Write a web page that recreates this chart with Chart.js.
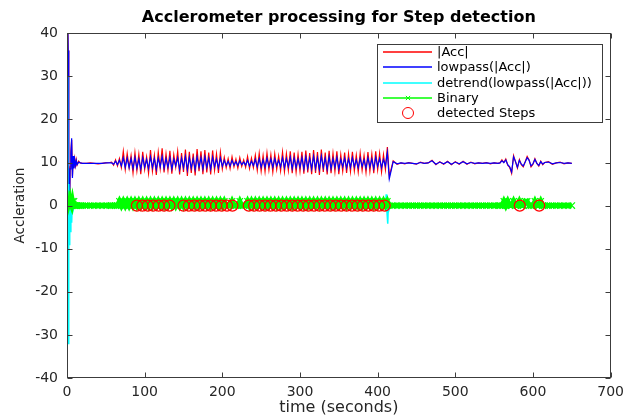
<!DOCTYPE html>
<html>
<head>
<meta charset="utf-8">
<script src="https://cdn.jsdelivr.net/npm/chart.js@4.4.1/dist/chart.umd.min.js"></script>
<style>
  html, body { margin: 0; padding: 0; background: #fff; }
  canvas { display: block; }
</style>
</head>
<body>
<canvas id="chart" width="630" height="417"></canvas>
<script>
// sample times (seconds) -- dense at the start, 2.5 s while walking, 5 s when still
const seq = (a, b, step) => {
  const out = [];
  for (let i = 0; a + i * step <= b + 1e-9; i++) out.push(a + i * step);
  return out;
};
const tStart = [0, 0.5, 1, 1.5, 2, 2.5, 3, 3.5, 4, 5, 6, 7, 8, 9, 10, 11, 12, 13, 15, 17, 20];
const accTime = [
  ...tStart,
  ...seq(25, 55, 5),
  ...seq(57.5, 415, 2.5),
  ...seq(420, 555, 5),
  ...seq(557.5, 615, 2.5),
  ...seq(620, 650, 5)
];

// |Acc|
const accMag = [
  9.8, 25, 45, 36, 10, 0, -6, 2, 9, 12.5, 15.2, 6.8, 11.2, 8.8, 10.8, 9.3, 10.6, 9.4, 10.3, 9.9, 9.8,
  9.8, 9.9, 9.8, 9.7, 9.8, 9.9, 10.0,
  10.1, 9.4, 10.6, 9.2, 10.9, 8.8, 12.6, 8.4,
  12.1, 8.7, 11.6, 7.6, 12.3, 8.1, 11.9, 7.3,
  12.5, 8.4, 11.3, 7.5, 12.9, 8.0, 11.7, 7.1,
  12.4, 8.6, 13.3, 7.7, 12.0, 8.2, 12.7, 7.4,
  11.8, 8.9, 12.6, 7.2, 12.2, 7.8, 13.0, 6.9,
  12.5, 7.6, 12.1, 7.0, 13.1, 8.0, 12.6, 7.3,
  12.9, 7.7, 12.3, 7.2, 12.8, 8.2, 12.0, 7.6,
  12.4, 8.5, 11.2, 8.8, 10.9, 8.6, 11.3, 9.0,
  10.8, 8.7, 11.1, 9.1, 10.6, 8.9, 11.4, 8.6,
  11.0, 8.8, 11.7, 8.2, 12.1, 8.0, 11.6, 7.9,
  12.2, 8.3, 11.8, 7.8, 12.0, 8.4, 11.5, 8.1,
  12.4, 7.9, 12.0, 8.2, 12.6, 7.5, 12.3, 7.8,
  11.9, 8.0, 12.5, 7.4, 12.8, 7.7, 12.2, 7.3,
  12.9, 7.6, 12.4, 7.1, 13.0, 7.8, 12.3, 7.2,
  12.7, 7.5, 12.1, 7.9, 12.6, 7.3, 11.8, 8.0,
  12.3, 7.6, 12.0, 7.9, 12.5, 8.1, 11.7, 7.8,
  12.2, 8.2, 11.6, 7.7, 12.4, 8.0, 11.9, 7.5,
  12.6, 8.3, 12.1, 7.8, 11.8, 8.4, 13.6, 6.8,
  10.4, 9.6, 9.9, 9.7, 10.0, 9.8, 9.6, 10.1, 9.8, 9.9,
  10.5, 9.5, 10.2, 9.6, 10.3, 9.5, 10.2, 9.6, 10.3, 9.6,
  10.1, 9.7, 9.9, 9.8, 10.0, 9.7, 9.9, 9.8,
  9.9, 10.6, 10.0, 10.8, 9.4, 8.9, 7.5, 11.6, 10.2, 8.7, 10.7, 9.5,
  9.0, 10.2, 11.4, 10.6, 9.0, 9.6, 10.9, 9.8, 9.2, 10.3, 9.5, 10.0,
  10.2, 9.6, 9.9, 10.1, 9.7, 9.9, 9.8
];

// lowpass(|Acc|)
const accLow = [
  9.8, 25, 45, 36, 10, 0, -6, 2, 8.5, 12, 15.6, 6.4, 11.5, 8.6, 10.6, 9.3, 10.4, 9.5, 10.1, 9.9, 9.8,
  9.8, 9.8, 9.8, 9.8, 9.8, 9.9, 9.9,
  9.9, 9.6, 10.3, 9.5, 10.5, 9.2, 11.1, 8.9,
  11.0, 8.8, 10.9, 8.6, 11.2, 8.7, 10.8, 8.5,
  11.1, 8.9, 10.7, 8.6, 11.3, 8.8, 10.9, 8.4,
  11.0, 9.0, 11.4, 8.7, 10.9, 8.9, 11.2, 8.5,
  10.8, 9.2, 11.1, 8.4, 11.0, 8.8, 11.4, 8.3,
  11.2, 8.7, 10.9, 8.4, 11.3, 8.9, 11.1, 8.5,
  11.3, 8.8, 11.0, 8.5, 11.2, 9.0, 10.8, 8.7,
  11.0, 9.1, 10.5, 9.3, 10.3, 9.2, 10.5, 9.4,
  10.2, 9.3, 10.4, 9.5, 10.1, 9.4, 10.5, 9.2,
  10.3, 9.3, 10.7, 9.0, 10.9, 8.9, 10.6, 8.9,
  11.0, 9.1, 10.8, 8.9, 10.9, 9.2, 10.5, 9.0,
  11.1, 8.8, 10.9, 9.0, 11.2, 8.6, 11.0, 8.8,
  10.8, 8.9, 11.1, 8.5, 11.3, 8.7, 11.0, 8.5,
  11.4, 8.6, 11.1, 8.4, 11.5, 8.8, 11.0, 8.4,
  11.3, 8.6, 10.9, 8.9, 11.2, 8.5, 10.7, 9.0,
  11.0, 8.7, 10.8, 8.9, 11.1, 9.0, 10.6, 8.8,
  11.0, 9.1, 10.6, 8.7, 11.1, 9.0, 10.8, 8.6,
  11.2, 9.1, 10.9, 8.8, 10.7, 9.2, 12.3, 6.2,
  10.2, 9.7, 9.9, 9.8, 9.9, 9.8, 9.7, 10.0, 9.8, 9.9,
  10.4, 9.6, 10.1, 9.7, 10.2, 9.6, 10.1, 9.7, 10.2, 9.7,
  10.0, 9.8, 9.9, 9.8, 9.9, 9.8, 9.9, 9.8,
  9.9, 10.4, 10.0, 10.6, 9.5, 9.0, 7.8, 11.3, 10.2, 8.9, 10.5, 9.6,
  9.2, 10.1, 11.1, 10.5, 9.2, 9.7, 10.7, 9.8, 9.3, 10.2, 9.6, 10.0,
  10.1, 9.7, 9.9, 10.0, 9.8, 9.9, 9.8
];

// Binary (0/1) on the same time grid
const binary = [
  0, 1, 1, 0, 0, 0, 1, 0, 1, 1, 0, 1, 0, 1, 0, 0, 0, 0, 0, 0, 0,
  0, 0, 0, 0, 0, 0, 0,
  0, 0, 0, 0, 1, 0, 1, 0,
  1, 0, 1, 0, 1, 0, 1, 0,
  1, 0, 1, 0, 1, 0, 1, 0,
  1, 0, 1, 0, 1, 0, 1, 0,
  1, 0, 1, 0, 1, 0, 1, 0,
  1, 0, 1, 0, 1, 0, 1, 0,
  1, 0, 1, 0, 1, 0, 1, 0,
  1, 0, 1, 0, 0, 0, 1, 0,
  0, 0, 1, 0, 0, 0, 1, 0,
  1, 0, 1, 0, 1, 0, 1, 0,
  1, 0, 1, 0, 1, 0, 1, 0,
  1, 0, 1, 0, 1, 0, 1, 0,
  1, 0, 1, 0, 1, 0, 1, 0,
  1, 0, 1, 0, 1, 0, 1, 0,
  1, 0, 1, 0, 1, 0, 1, 0,
  1, 0, 1, 0, 1, 0, 1, 0,
  1, 0, 1, 0, 1, 0, 1, 0,
  1, 0, 1, 0, 1, 0, 1, 0,
  0, 0, 0, 0, 0, 0, 0, 0, 0, 0,
  0, 0, 0, 0, 0, 0, 0, 0, 0, 0,
  0, 0, 0, 0, 0, 0, 0, 0,
  0, 0, 1, 0, 1, 0, 0, 1, 0, 0, 1, 0,
  0, 1, 1, 0, 0, 0, 1, 0, 0, 1, 0, 0,
  0, 0, 0, 0, 0, 0, 0
];

// detrend(lowpass(|Acc|))
const detrendTime = [0, 0.5, 1, 1.5, 2, 2.5, 3, 3.5, 4, 5, 6, 7, 8, 10, 12, 15, 20, 60, 100, 200,
  300, 400, 408, 410, 411, 412, 413, 414, 415, 417, 420, 500, 600, 650];
const detrend = [0, 30, 27, -32, -18, 5, -9, 1, -6, 2, -4, 1.5, -1, 0.5, -0.3, 0.1, 0, 0, 0.2, -0.1,
  0.1, 0, 0.3, -0.4, 2.6, -1.5, -4.2, 1.2, -0.8, 0.3, 0, 0, 0, 0];

// detected steps (time, all at 0)
const stepTimes = [90, 97, 104, 111, 118, 125, 132, 150, 157, 164, 171, 178, 185, 192, 199, 206, 213,
  234, 241, 248, 255, 262, 269, 276, 283, 290, 297, 304, 311, 318, 325, 332, 339, 346, 353, 360,
  367, 374, 381, 388, 395, 402, 409, 583, 608];

const xTicks = [0, 100, 200, 300, 400, 500, 600, 700];
const yTicks = [-40, -30, -20, -10, 0, 10, 20, 30, 40];

const pts = (xs, ys) => xs.map((x, i) => ({ x: x, y: ys[i] }));

const FONT = "'DejaVu Sans', Verdana, sans-serif";
Chart.defaults.font.family = FONT;
Chart.defaults.color = '#262626';

// MATLAB-like box with inward ticks on all four sides
const axesBox = {
  id: 'axesBox',
  afterDraw(chart) {
    const { ctx, chartArea: a, scales: { x, y } } = chart;
    const L = Math.round(a.left) + 0.5, R = Math.round(a.right) - 0.5;
    const T = Math.round(a.top) + 0.5, B = Math.round(a.bottom) - 0.5;
    ctx.save();
    ctx.strokeStyle = '#3c3c3c';
    ctx.lineWidth = 1;
    ctx.strokeRect(L, T, R - L, B - T);
    ctx.beginPath();
    xTicks.forEach(v => {
      const px = Math.round(x.getPixelForValue(v)) + 0.5;
      ctx.moveTo(px, B); ctx.lineTo(px, B - 5);
      ctx.moveTo(px, T); ctx.lineTo(px, T + 5);
    });
    yTicks.forEach(v => {
      const py = Math.round(y.getPixelForValue(v)) + 0.5;
      ctx.moveTo(L, py); ctx.lineTo(L + 5, py);
      ctx.moveTo(R, py); ctx.lineTo(R - 5, py);
    });
    ctx.stroke();
    ctx.restore();
  }
};

// legend box in the top right corner of the axes
const legendMarkers = { 'Binary': 3, 'detected Steps': 5.5 };
const boxLegend = {
  id: 'boxLegend',
  afterDraw(chart) {
    const { ctx } = chart;
    const left = 377, top = 44, w = 225, h = 78, rowH = 15.3;
    ctx.save();
    ctx.fillStyle = '#fff';
    ctx.fillRect(left, top, w, h);
    ctx.strokeStyle = '#3c3c3c';
    ctx.lineWidth = 1;
    ctx.strokeRect(left + 0.5, top + 0.5, w, h);
    ctx.font = '13px ' + FONT;
    ctx.textBaseline = 'middle';
    chart.data.datasets.forEach((ds, i) => {
      const cy = Math.round(top + 8 + rowH * i);
      if (ds.showLine !== false) {
        ctx.strokeStyle = ds.borderColor;
        ctx.lineWidth = 1.3;
        ctx.beginPath();
        ctx.moveTo(383, cy); ctx.lineTo(432, cy);
        ctx.stroke();
      }
      if (legendMarkers[ds.label]) {
        ctx.strokeStyle = ds.pointBorderColor || ds.borderColor;
        ctx.fillStyle = 'rgba(0,0,0,0)';
        ctx.lineWidth = 1;
        Chart.helpers.drawPoint(ctx, {
          pointStyle: ds.pointStyle, radius: legendMarkers[ds.label], rotation: 0, borderWidth: 1
        }, 408, cy);
      }
      ctx.fillStyle = '#000';
      ctx.fillText(ds.label, 437, cy + 1);
    });
    ctx.restore();
  }
};

new Chart(document.getElementById('chart'), {
  type: 'line',
  data: {
    datasets: [
      {
        label: '|Acc|',
        data: pts(accTime, accMag),
        borderColor: '#ff0000',
        borderWidth: 1.2,
        pointRadius: 0,
        order: 5
      },
      {
        label: 'lowpass(|Acc|)',
        data: pts(accTime, accLow),
        borderColor: '#0000ff',
        borderWidth: 1.2,
        pointRadius: 0,
        order: 4
      },
      {
        label: 'detrend(lowpass(|Acc|))',
        data: pts(detrendTime, detrend),
        borderColor: '#00ffff',
        borderWidth: 1.5,
        pointRadius: 0,
        order: 3
      },
      {
        label: 'Binary',
        data: pts(accTime, binary),
        borderColor: '#00ff00',
        borderWidth: 5,
        pointStyle: 'crossRot',
        pointRadius: 4.5,
        pointBorderColor: '#00ff00',
        pointBorderWidth: 1.2,
        order: 2
      },
      {
        label: 'detected Steps',
        data: stepTimes.map(t => ({ x: t, y: 0 })),
        showLine: false,
        borderColor: '#ff0000',
        backgroundColor: 'rgba(0,0,0,0)',
        pointStyle: 'circle',
        pointRadius: 5.5,
        pointBorderColor: '#ff0000',
        pointBackgroundColor: 'rgba(0,0,0,0)',
        pointBorderWidth: 1.2,
        order: 1
      }
    ]
  },
  options: {
    responsive: false,
    animation: false,
    events: [],
    layout: { padding: { left: 0, right: 17, top: 0, bottom: 0 } },
    elements: { line: { tension: 0 } },
    scales: {
      x: {
        type: 'linear',
        min: 0,
        max: 700,
        afterBuildTicks: s => { s.ticks = xTicks.map(v => ({ value: v })); },
        ticks: { font: { size: 14 }, padding: 6, maxRotation: 0, autoSkip: false },
        grid: { display: false, drawTicks: false },
        border: { display: false },
        title: { display: true, text: 'time (seconds)', font: { size: 16 }, color: '#262626', padding: { top: 0, bottom: 0 } },
        afterFit: s => { s.height = 39; }
      },
      y: {
        type: 'linear',
        min: -40,
        max: 40,
        afterBuildTicks: s => { s.ticks = yTicks.map(v => ({ value: v })); },
        ticks: { font: { size: 14 }, padding: 9, autoSkip: false },
        grid: { display: false, drawTicks: false },
        border: { display: false },
        title: { display: true, text: 'Accleration', font: { size: 13.5 }, color: '#262626', padding: { top: 12, bottom: 0 } },
        afterFit: s => { s.width = 67; }
      }
    },
    plugins: {
      legend: { display: false },
      tooltip: { enabled: false },
      title: {
        display: true,
        fullSize: false,
        text: 'Acclerometer processing for Step detection',
        color: '#000',
        font: { size: 16, weight: 'bold' },
        padding: { top: 8, bottom: 6 }
      }
    }
  },
  plugins: [axesBox, boxLegend]
});
</script>
</body>
</html>
